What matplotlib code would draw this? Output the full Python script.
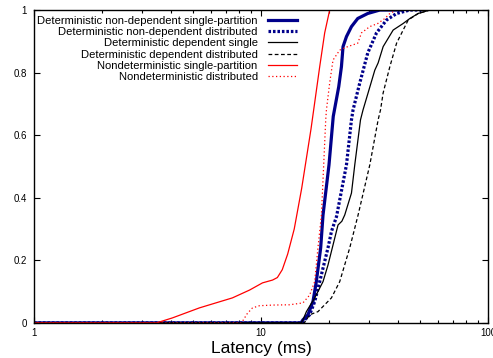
import matplotlib
matplotlib.use("Agg")
import matplotlib.pyplot as plt
from matplotlib.ticker import LogLocator, FixedLocator, NullFormatter

plt.rcParams['font.family'] = ['Liberation Sans', 'DejaVu Sans']

# latency (ms) / cumulative fraction
det_nd_single_x = [1, 15.0, 15.3, 16.09, 16.93, 17.52, 18.31, 18.75, 19.92, 20.8, 21.99, 22.6, 22.97, 23.78, 25.02, 26.67, 29.52, 33.37, 41.59]
det_nd_single_y = [0, 0, 0.01, 0.026, 0.068, 0.132, 0.24, 0.345, 0.505, 0.66, 0.755, 0.819, 0.883, 0.915, 0.947, 0.973, 0.989, 1.0, 1.0]

det_nd_dist_x = [1, 15.3, 15.57, 16.37, 17.23, 18.13, 19.72, 20.42, 21.5, 23.78, 25.02, 25.43, 27.22, 29.52, 32.26, 35.71, 39.54, 45.25, 51.64]
det_nd_dist_y = [0, 0, 0.01, 0.026, 0.068, 0.132, 0.24, 0.292, 0.34, 0.505, 0.649, 0.681, 0.767, 0.863, 0.927, 0.968, 0.989, 1.0, 1.0]

det_dep_single_x = [1, 15.0, 15.3, 15.84, 17.23, 18.75, 19.72, 20.75, 21.83, 22.7, 23.37, 25.02, 25.87, 27.42, 28.14, 29.61, 31.71, 32.79, 34.5, 38.19, 42.27, 45.25, 49.24, 55.46, 80.5]
det_dep_single_y = [0, 0, 0.01, 0.036, 0.08, 0.132, 0.185, 0.249, 0.313, 0.325, 0.345, 0.415, 0.505, 0.649, 0.681, 0.735, 0.808, 0.831, 0.883, 0.936, 0.957, 0.973, 0.989, 1.0, 1.0]

det_dep_dist_x = [1, 15.5, 15.84, 16.37, 17.81, 20.42, 22.21, 24.59, 26.76, 30.13, 32.79, 33.6, 34.5, 36.93, 39.54, 42.27, 44.48, 49.24, 55.46, 75.0]
det_dep_dist_y = [0, 0, 0.01, 0.026, 0.036, 0.08, 0.132, 0.24, 0.345, 0.505, 0.649, 0.681, 0.735, 0.819, 0.894, 0.936, 0.968, 0.989, 1.0, 1.0]

nondet_single_x = [1, 3.46, 4.07, 5.35, 7.48, 8.9, 10.15, 11.24, 11.8, 12.4, 13.1, 14.0, 15.1, 16.6, 17.2, 18.13, 19.07, 20.06, 20.7]
nondet_single_y = [0, 0, 0.016, 0.048, 0.08, 0.105, 0.128, 0.137, 0.145, 0.17, 0.22, 0.30, 0.43, 0.62, 0.7, 0.819, 0.927, 1.0, 1.0]

nondet_dist_x = [1, 8.2, 8.7, 9.17, 9.85, 11.24, 13.36, 15.3, 16.37, 17.23, 17.81, 18.45, 19.27, 19.41, 20.06, 20.75, 22.21, 24.09, 26.67, 27.7, 30.13, 32.68, 35.11, 36.93, 39.54]
nondet_dist_y = [0, 0, 0.03, 0.048, 0.055, 0.057, 0.058, 0.064, 0.089, 0.132, 0.24, 0.345, 0.649, 0.681, 0.767, 0.84, 0.872, 0.883, 0.894, 0.927, 0.947, 0.957, 0.973, 0.989, 1.0]

labels = ['Deterministic non-dependent single-partition',
          'Deterministic non-dependent distributed',
          'Deterministic dependent single',
          'Deterministic dependent distributed',
          'Nondeterministic single-partition',
          'Nondeterministic distributed']

fig = plt.figure(figsize=(4.93, 3.58), dpi=100)
ax = fig.add_axes([0.069, 0.098, 0.921, 0.874])

blue = '#00008b'
ax.plot(det_nd_single_x, det_nd_single_y, color=blue, lw=2.3, label=labels[0])
ax.plot(det_nd_dist_x, det_nd_dist_y, color=blue, lw=2.3, ls=(0, (0.8, 0.6)), label=labels[1])
ax.plot(det_dep_single_x, det_dep_single_y, color='black', lw=0.9, label=labels[2])
ax.plot(det_dep_dist_x, det_dep_dist_y, color='black', lw=0.9, ls=(0, (3, 2)), label=labels[3])
ax.plot(nondet_single_x, nondet_single_y, color='red', lw=0.9, label=labels[4])
ax.plot(nondet_dist_x, nondet_dist_y, color='red', lw=0.9, ls=(0, (1, 2)), label=labels[5])

ax.set_xscale('log')
ax.set_xlim(1, 100)
ax.set_ylim(0, 1)
ax.xaxis.set_major_locator(FixedLocator([1, 10, 100]))
ax.xaxis.set_major_formatter(plt.FuncFormatter(lambda v, p: '%d' % v))
ax.xaxis.set_minor_locator(LogLocator(base=10, subs=range(2, 10)))
ax.xaxis.set_minor_formatter(NullFormatter())
ax.set_yticks([0, 0.2, 0.4, 0.6, 0.8, 1])
ax.set_yticklabels(['0', '0.2', '0.4', '0.6', '0.8', '1'])

ax.tick_params(which='both', direction='in', top=True, right=True, labelsize=7)
ax.tick_params(which='major', length=4, width=0.8)
ax.tick_params(which='minor', length=2, width=0.8)
ax.tick_params(axis='y', pad=5)
ax.tick_params(axis='x', pad=4)
for s in ax.spines.values():
    s.set_linewidth(1.0)

ax.set_xlabel('Latency (ms)', fontsize=12.5, labelpad=2)

ax.legend(loc='upper left', bbox_to_anchor=(-0.008, 1.002), frameon=False, markerfirst=False,
          fontsize=8.1, handlelength=2.6, handletextpad=0.9, labelspacing=0.1,
          borderaxespad=0.2)
for t in ax.get_legend().get_texts():
    t.set_ha('right')
ax.get_legend()._legend_box.align = 'right'

fig.savefig('out.png', dpi=100)
